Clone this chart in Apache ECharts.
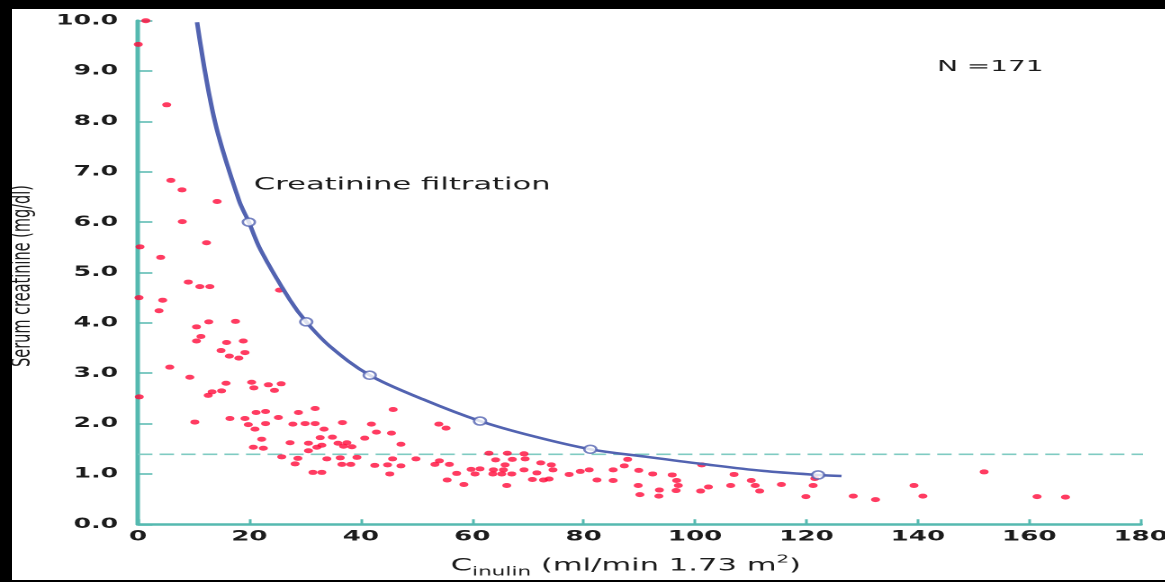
<!DOCTYPE html>
<html>
<head>
<meta charset="utf-8">
<script src="https://cdn.jsdelivr.net/npm/echarts@6/dist/echarts.min.js"></script>
<style>
html,body{margin:0;padding:0;background:#fff;overflow:hidden;}
#page{position:absolute;left:0;top:0;width:1165px;height:582px;background:#fff;overflow:hidden;}
#chart{position:absolute;left:0;top:0;width:647.22px;height:582px;transform:scaleX(1.8);transform-origin:0 0;}
.bar{position:absolute;background:#000;}
</style>
</head>
<body>
<div id="page">
  <div id="chart"></div>
  <div class="bar" style="left:0;top:0;width:1165px;height:9px"></div>
  <div class="bar" style="left:0;top:0;width:12px;height:582px"></div>
  <div class="bar" style="left:0;top:580px;width:1165px;height:2px"></div>
</div>
<script>
// ---- data ----
const xTickLabels = ['0','20','40','60','80','100','120','140','160','180'];
const yTickLabels = ['0.0','1.0','2.0','3.0','4.0','5.0','6.0','7.0','8.0','9.0','10.0'];

// Each patient: [C_inulin (ml/min 1.73 m2), serum creatinine (mg/dl)]
const patients = [
  [1.4,10.0],[0.05,9.53],[5.15,8.33],[5.9,6.83],[7.9,6.64],[14.2,6.41],[7.95,6.01],[12.3,5.59],
  [0.36,5.51],[4.07,5.30],[9.03,4.81],[11.1,4.72],[12.9,4.72],[25.4,4.65],[0.18,4.50],[4.43,4.45],
  [3.77,4.24],[10.5,3.92],[12.7,4.02],[17.5,4.03],[11.3,3.73],[10.5,3.64],[15.9,3.61],[18.9,3.64],
  [14.9,3.45],[19.2,3.41],[16.4,3.34],[18.1,3.30],[5.7,3.12],[9.3,2.92],[0.23,2.53],[15.8,2.80],
  [20.4,2.82],[20.8,2.71],[23.4,2.77],[25.7,2.79],[24.5,2.66],[12.6,2.56],[13.3,2.63],[15.0,2.65],
  [10.2,2.03],[16.5,2.10],[19.2,2.10],[21.2,2.22],[22.9,2.24],[25.2,2.12],[28.8,2.22],[19.8,1.98],
  [21.0,1.89],[22.9,2.00],[27.8,1.99],[22.2,1.69],[27.3,1.62],[20.7,1.53],[22.5,1.51],[25.8,1.34],
  [28.7,1.31],[28.2,1.20],[31.8,2.30],[30.0,2.00],[31.8,2.00],[33.4,1.89],[36.7,2.02],[41.9,1.99],
  [45.8,2.28],[42.8,1.83],[45.5,1.81],[30.6,1.61],[32.7,1.72],[34.9,1.73],[33.0,1.57],[32.1,1.53],
  [35.9,1.61],[37.5,1.62],[36.9,1.55],[38.4,1.54],[40.7,1.71],[30.6,1.46],[33.9,1.30],[36.3,1.32],
  [39.3,1.33],[45.7,1.30],[36.6,1.19],[38.2,1.19],[42.5,1.17],[44.8,1.18],[31.4,1.03],[33.0,1.03],
  [45.2,1.00],[47.2,1.16],[47.2,1.59],[54.0,1.99],[55.3,1.91],[63.0,1.41],[66.3,1.41],[69.3,1.40],
  [49.9,1.30],[54.1,1.26],[64.2,1.28],[67.2,1.29],[69.5,1.30],[53.3,1.19],[55.9,1.19],[65.9,1.18],
  [72.3,1.22],[74.2,1.18],[57.2,1.01],[59.8,1.09],[61.4,1.10],[60.5,1.00],[63.8,1.08],[65.6,1.08],
  [63.7,1.00],[65.3,1.00],[67.1,1.00],[69.3,1.08],[71.6,1.02],[74.5,1.08],[77.4,0.99],[79.4,1.05],
  [81.0,1.08],[55.5,0.88],[58.5,0.79],[66.2,0.77],[70.8,0.89],[72.8,0.88],[73.8,0.90],[87.9,1.29],
  [87.3,1.16],[85.3,1.08],[89.9,1.07],[92.4,1.00],[95.9,0.98],[101.2,1.18],[107.0,0.99],[82.4,0.88],
  [85.3,0.87],[96.7,0.87],[110.1,0.87],[89.8,0.77],[97.0,0.77],[102.4,0.74],[106.4,0.77],[110.8,0.77],
  [115.5,0.79],[121.2,0.77],[121.5,0.91],[93.6,0.68],[96.6,0.67],[101.0,0.66],[111.6,0.66],[90.1,0.59],
  [93.5,0.56],[119.9,0.55],[128.4,0.56],[132.4,0.49],[139.3,0.77],[140.9,0.56],[151.9,1.04],[161.4,0.55],
  [166.5,0.54]
];

// "Creatinine filtration" curve
const filtrationCurve = [
  [10.6,9.97],[13.8,8.0],[18.1,6.44],[19.9,6.0],[22.0,5.45],[27.3,4.45],[30.2,4.02],[34.5,3.53],
  [41.6,2.96],[51.2,2.48],[61.4,2.05],[70.9,1.75],[81.2,1.49],[91.3,1.34],[101.2,1.20],[112.2,1.06],
  [122.1,0.98],[126.3,0.96]
];
// hollow marker points on the curve
const filtrationMarkers = [[19.9,6.0],[30.2,4.02],[41.6,2.96],[61.4,2.05],[81.2,1.49],[122.1,0.98]];

// dashed upper-normal level
const upperNormalLevel = 1.39;
const upperNormalSpan = [0, 182.2];

// ---- chart ----
const FONT = 'DejaVu Sans';
const TEAL = '#55b9b0';
const BLUE = '#5263b1';
const RED = '#ff0a3a';
const INK = '#1c1c1c';

const chart = echarts.init(document.getElementById('chart'), null, {devicePixelRatio: 2});
const option = {
  animation: false,
  backgroundColor: '#fff',
  grid: {left: 76.67, right: 13.3, top: 20.7, bottom: 57.7, containLabel: false, outerBoundsMode: 'none'},
  xAxis: {
    type: 'value', min: 0, max: 180, interval: 20,
    axisLine: {lineStyle: {color: TEAL, width: 2.5}},
    axisTick: {inside: true, length: 5, lineStyle: {color: TEAL, width: 1.5}},
    axisLabel: {margin: 5, fontFamily: FONT, fontSize: 14.5, fontWeight: 'bold', color: INK,
      formatter: v => xTickLabels[Math.round(v / 20)]},
    splitLine: {show: false},
    name: '{c|C}{sub|inulin}{m| (ml/min 1.73 m}{sup|2}{m|)}',
    nameLocation: 'middle', nameGap: 30,
    nameTextStyle: {
      padding: [0, 15, 0, 0],
      rich: {
        c: {fontFamily: FONT, fontSize: 17, color: INK, lineHeight: 24},
        m: {fontFamily: FONT, fontSize: 17, color: INK, lineHeight: 24},
        sub: {fontFamily: FONT, fontSize: 12, color: INK, lineHeight: 14, verticalAlign: 'bottom'},
        sup: {fontFamily: FONT, fontSize: 11, color: INK, lineHeight: 12, verticalAlign: 'top'}
      }
    }
  },
  yAxis: {
    type: 'value', min: 0, max: 10, interval: 1,
    axisLine: {lineStyle: {color: TEAL, width: 2.5}},
    axisTick: {inside: true, length: 8, lineStyle: {color: TEAL, width: 1.5}},
    axisLabel: {margin: 11, fontFamily: FONT, fontSize: 14, fontWeight: 'bold', color: INK,
      formatter: v => yTickLabels[Math.round(v)]},
    splitLine: {show: false},
    name: 'Serum creatinine (mg/dl)',
    nameLocation: 'middle', nameRotate: 90, nameGap: 50,
    nameTextStyle: {fontFamily: FONT, fontSize: 14.5, color: INK, padding: [0, 7, 0, 0]}
  },
  series: [
    {
      name: 'upper normal', type: 'line', silent: true, clip: false, z: 1,
      data: upperNormalSpan.map(x => [x, upperNormalLevel]),
      symbol: 'none',
      lineStyle: {color: '#7fcbc2', width: 1.6, type: [8, 4]}
    },
    {
      name: 'Creatinine filtration', type: 'line', silent: true, z: 3,
      data: filtrationCurve, smooth: 0.35,
      showSymbol: false, symbol: 'none',
      lineStyle: {color: BLUE, width: 2.5}
    },
    {
      name: 'patients', type: 'scatter', z: 2,
      data: patients, symbol: 'circle', symbolSize: 5,
      itemStyle: {color: RED}
    },
    {
      name: 'markers', type: 'scatter', z: 4,
      data: filtrationMarkers, symbol: 'circle', symbolSize: [6.7, 8],
      itemStyle: {color: '#fff', borderColor: BLUE, borderWidth: 1.5}
    }
  ],
  graphic: [
    {type: 'text', x: 141, y: 185, z: 10,
      style: {text: 'Creatinine filtration', fontFamily: FONT, fontSize: 17, fill: INK, align: 'left', verticalAlign: 'middle'}},
    {type: 'text', x: 520.6, y: 67, z: 10,
      style: {text: 'N =171', fontFamily: FONT, fontSize: 15.5, fill: INK, align: 'left', verticalAlign: 'middle'}}
  ]
};
chart.setOption(option);
</script>
</body>
</html>
